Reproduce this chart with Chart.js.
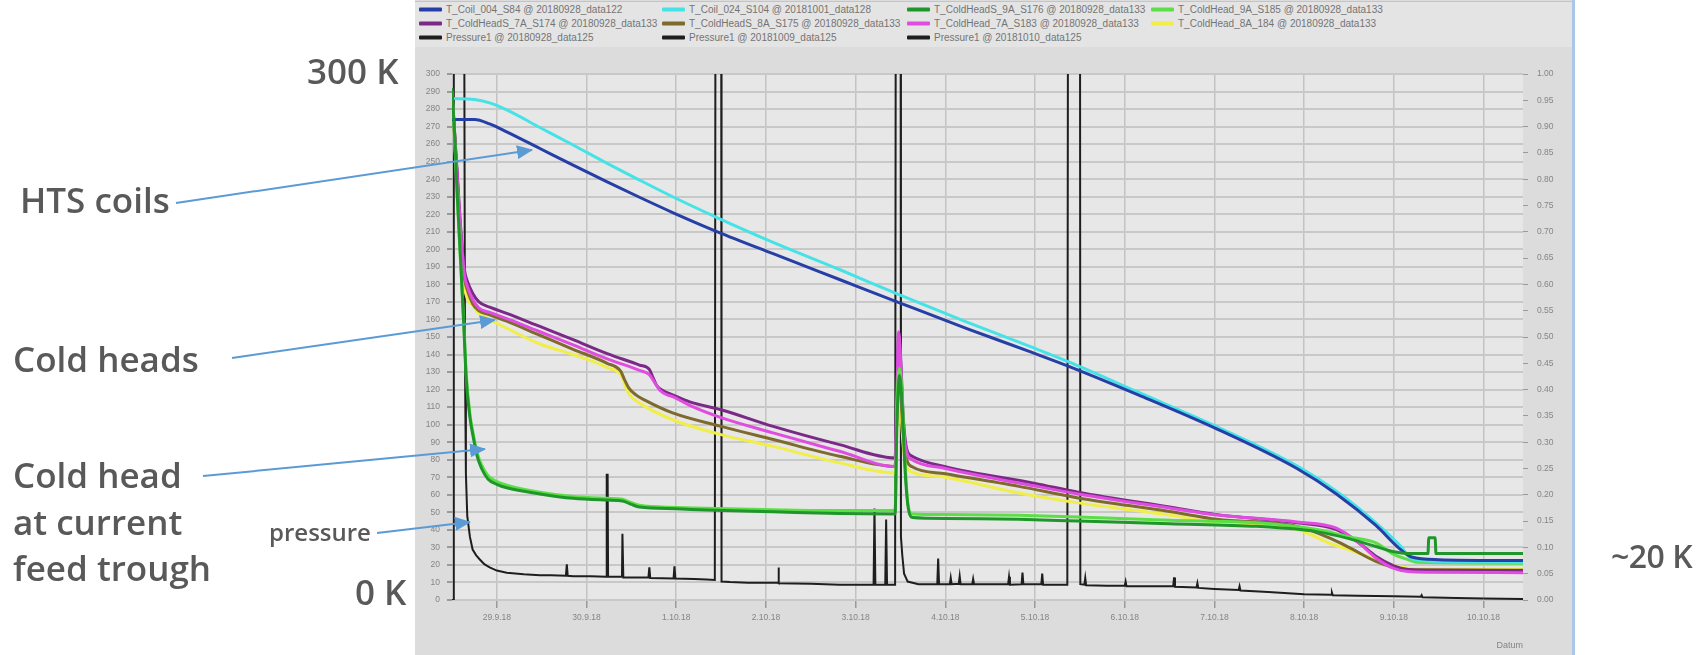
<!DOCTYPE html>
<html>
<head>
<meta charset="utf-8">
<title>Cool-down HTS coils</title>
<script src="https://cdn.jsdelivr.net/npm/chart.js@4.4.1/dist/chart.umd.min.js"></script>
<style>
  html, body { margin: 0; padding: 0; background: #fff; }
  body { width: 1702px; height: 655px; position: relative; overflow: hidden; font-family: "Open Sans", sans-serif; }
  #panel { position: absolute; left: 415px; top: 0; width: 1157px; height: 655px; background: #dcdcdc; border-right: 3px solid #a9c8e8; }
  #legendBand { position: absolute; left: 415px; top: 1px; width: 1157px; height: 45px; background: #e4e4e4; border-top: 1px solid #c4c4c4; }
  #chartLegend .item { position: absolute; font: 10px "Liberation Sans", Arial, sans-serif; color: #747474; white-space: nowrap; line-height: 11px; transform: translateY(-50%); }
  #chartLegend .swatch { display: inline-block; width: 23px; height: 4px; vertical-align: middle; margin-right: 4px; border-radius: 1px; }
  #cooldownChart { position: absolute; left: 0; top: 0; }
  .note { position: absolute; color: #595959; font-weight: 600; font-size: 35px; line-height: 1; white-space: nowrap; transform: translateY(-50%); }
  .note.small { font-size: 24px; }
  .note.right { font-size: 32px; letter-spacing: -0.5px; }
  #arrows { position: absolute; left: 0; top: 0; }
</style>
</head>
<body>
<div id="panel"></div>
<div id="legendBand"></div>
<div id="chartLegend"></div>
<canvas id="cooldownChart" width="1702" height="655"></canvas>

<div class="note" style="left:307px; top:70px;">300 K</div>
<div class="note" style="left:20px; top:199px;">HTS coils</div>
<div class="note" style="left:13px; top:358px;">Cold heads</div>
<div class="note" style="left:13px; top:474px;">Cold head</div>
<div class="note" style="left:13px; top:521px;">at current</div>
<div class="note" style="left:13px; top:567px;">feed trough</div>
<div class="note small" style="left:269px; top:532px;">pressure</div>
<div class="note" style="left:355px; top:591px;">0 K</div>
<div class="note right" style="left:1611px; top:556px;">~20 K</div>

<svg id="arrows" width="1702" height="655">
  <defs>
    <marker id="head" markerUnits="userSpaceOnUse" markerWidth="16" markerHeight="14" refX="15" refY="7" orient="auto">
      <path d="M0,0 L16,7 L0,14 z" fill="#5b9bd5"/>
    </marker>
  </defs>
  <g stroke="#5b9bd5" stroke-width="2" marker-end="url(#head)">
    <line x1="176" y1="203" x2="532" y2="150"/>
    <line x1="232" y1="358" x2="495" y2="320"/>
    <line x1="203" y1="476" x2="485" y2="449"/>
    <line x1="377" y1="533" x2="470" y2="522"/>
  </g>
</svg>

<script>
// x = days since 28.9.18 00:00, temperatures in K (left axis), pressure on right axis
const xTickDays = [1, 2, 3, 4, 5, 6, 7, 8, 9, 10, 11, 12];
const xTickLabels = ['29.9.18', '30.9.18', '1.10.18', '2.10.18', '3.10.18', '4.10.18',
                     '5.10.18', '6.10.18', '7.10.18', '8.10.18', '9.10.18', '10.10.18'];

const coil004 = [[0.50,274],[0.75,274],[0.92,271.5],[1.11,267],[1.48,257.5],[1.85,248],[2.23,238.5],
  [2.59,229.7],[2.96,221],[3.46,210],[4.08,197.5],[4.82,182.8],[5.49,169.5],[6.24,154.8],[6.95,141.5],
  [7.39,133],[8.15,117],[9.03,97.5],[9.92,75],[10.36,60.5],[10.80,42.5],[11.07,29],[11.2,24.5],
  [11.5,23],[12.44,22.5]];

const coil024 = [[0.50,286],[0.75,285.5],[0.92,283.5],[1.11,279.5],[1.48,269.5],[1.85,259.5],[2.23,249],
  [2.59,239.5],[2.96,230],[3.46,218],[4.08,204],[4.82,188.5],[5.49,174],[6.24,158.5],[6.95,144.5],
  [7.39,135.5],[8.15,118.5],[9.03,98.8],[9.92,76.5],[10.36,62],[10.80,44],[11.07,31],[11.2,23.5],
  [11.5,22],[12.44,21.5]];

const coldHeadS9A = [[0.50,292],[0.53,265],[0.56,230],[0.60,190],[0.63,158],[0.66,125],[0.70,104],
  [0.74,92],[0.78,82],[0.83,75],[0.90,69],[1.00,66],[1.11,64],[1.48,60.5],[1.85,58],[2.23,57],
  [2.40,56.5],[2.50,54.5],[2.59,53],[3.00,52],[3.34,51.3],[4.08,50.3],[4.82,49.3],[5.44,49],
  [5.46,100],[5.49,128],[5.52,110],[5.55,75],[5.58,55],[5.63,47],[6.00,46.5],[6.82,46],[7.48,45],
  [8.50,43.5],[9.47,42],[10.14,39],[10.50,35],[10.80,30.5],[11.00,27.5],[11.16,26.5],[11.38,26.5],
  [11.39,35.5],[11.46,35.5],[11.47,26.5],[12.44,26.5]];

const coldHead9A = [[0.50,290],[0.53,262],[0.56,228],[0.60,188],[0.63,160],[0.66,128],[0.70,106],
  [0.74,94],[0.78,84],[0.83,77],[0.90,71],[1.00,67.5],[1.11,65.5],[1.48,61.5],[1.85,59],[2.23,58],
  [2.40,57.5],[2.50,55.5],[2.59,54],[3.00,52.8],[3.34,52.3],[4.08,51.5],[4.82,51],[5.44,51],
  [5.46,110],[5.49,132],[5.52,115],[5.55,80],[5.58,56],[5.63,49],[6.00,48.7],[6.82,48.3],
  [7.48,47.4],[8.50,45.5],[9.47,44],[10.14,40.2],[10.50,36],[10.80,32.6],[11.00,26],[11.16,23],
  [11.25,21.5],[12.44,21]];

const coldHeadS7A = [[0.50,290],[0.55,250],[0.60,210],[0.64,188],[0.67,182],[0.73,175],[0.80,170],
  [0.92,167],[1.11,163.5],[1.48,156],[1.85,148.5],[2.23,140.5],[2.59,134],[2.70,131.5],[2.74,127],
  [2.78,122.5],[2.85,119.5],[2.96,117],[3.15,113],[3.50,108.5],[4.08,99],[4.82,88.6],[5.44,81],
  [5.46,120],[5.48,150],[5.50,140],[5.53,105],[5.57,86],[5.63,82],[6.00,76],[7.00,66.5],[7.48,61.5],
  [8.50,53],[9.03,48.7],[9.92,44],[10.36,40.2],[10.60,33],[10.80,25],[11.00,19.5],[11.16,17.4],
  [11.40,17],[12.44,16.8]];

const coldHeadS8A = [[0.50,289],[0.55,248],[0.60,205],[0.64,183],[0.67,177],[0.73,169],[0.80,165],
  [0.92,162.7],[1.11,159],[1.48,151],[1.85,143],[2.23,135],[2.38,130.5],[2.42,126],[2.47,121],
  [2.55,117],[2.65,114],[2.96,106.7],[3.50,99],[4.08,91.5],[4.82,82],[5.44,76.2],[5.46,105],
  [5.48,128],[5.50,120],[5.53,95],[5.57,80],[5.63,76],[6.00,72],[6.82,64.8],[7.48,58.2],[8.50,50.5],
  [9.03,46],[9.92,42],[10.30,35],[10.50,30],[10.80,22],[11.00,18.5],[11.20,17.2],[12.44,17]];

const coldHead7A = [[0.50,288],[0.55,248],[0.60,208],[0.64,185],[0.67,179],[0.73,171.5],[0.80,166.5],
  [0.92,164],[1.11,160.5],[1.48,153],[1.85,145.5],[2.23,137.5],[2.59,131],[2.70,128.5],[2.76,124],
  [2.82,119.5],[2.90,117],[2.96,116],[3.15,111],[3.50,104],[4.08,95.3],[4.82,84.8],[5.44,76.2],
  [5.46,115],[5.48,153],[5.50,138],[5.53,100],[5.57,84],[5.63,80],[6.00,75],[7.00,65],[7.48,60.5],
  [8.50,52.5],[9.03,48.5],[9.92,44.5],[10.36,41],[10.60,33],[10.80,24],[11.00,18],[11.16,16.2],
  [11.40,15.8],[12.44,15.6]];

const coldHead8A = [[0.50,286],[0.55,245],[0.60,200],[0.64,178],[0.67,172],[0.73,168],[0.80,163.5],
  [0.92,160],[1.11,155],[1.48,146],[1.85,140],[2.23,132.5],[2.40,127],[2.44,121],[2.48,117],
  [2.60,112],[2.96,102.8],[3.50,94.3],[4.08,87.6],[4.82,78.2],[5.44,72.5],[5.46,100],[5.48,125],
  [5.50,112],[5.53,88],[5.57,76],[5.63,73],[6.00,70],[6.82,61],[7.48,55.4],[8.50,48.5],[9.03,44],
  [9.92,40.2],[10.30,32],[10.50,28.8],[10.80,23],[11.00,19.5],[11.20,18],[12.44,17.5]];

// pressure (right axis), values above 1.00 run off the top of the plot
const pressure0928 = [[0.50,0.00],[0.515,0.00],[0.52,1.6],[0.63,1.6],[0.645,0.45],[0.655,0.24],
  [0.67,0.16],[0.70,0.12],[0.73,0.096],[0.77,0.085],[0.81,0.077],[0.86,0.068],[0.92,0.062],
  [1.00,0.056],[1.11,0.052],[1.30,0.049],[1.48,0.047],[1.60,0.047],[1.77,0.046],[1.78,0.068],
  [1.79,0.046],[1.85,0.045],[2.05,0.045],[2.22,0.044],[2.225,0.238],[2.235,0.238],[2.24,0.044],
  [2.395,0.044],[2.40,0.126],[2.41,0.043],[2.59,0.043],[2.69,0.043],[2.70,0.062],[2.71,0.042],
  [2.97,0.041],[2.98,0.064],[2.99,0.041],[3.20,0.040],[3.34,0.039],[3.43,0.038],[3.44,1.6],
  [3.50,1.6],[3.505,0.035],[3.60,0.034],[3.80,0.033],[4.08,0.033],[4.135,0.033],[4.14,0.062],
  [4.145,0.032],[4.50,0.031],[4.82,0.029],[5.20,0.029],[5.21,0.174],[5.22,0.029],[5.33,0.029],
  [5.34,0.153],[5.35,0.029],[5.44,0.029],[5.45,1.6],[5.50,1.6],[5.505,0.12],[5.52,0.085],
  [5.54,0.05],[5.58,0.035],[5.70,0.030],[5.91,0.030],[5.92,0.079],[5.93,0.030],[6.05,0.030],
  [6.06,0.042],[6.07,0.030],[6.15,0.031],[6.16,0.045],[6.17,0.030],[6.30,0.030],[6.31,0.040],
  [6.32,0.030],[6.70,0.030],[6.71,0.044],[6.72,0.029],[6.85,0.030],[6.86,0.052],[6.87,0.030],
  [7.07,0.030],[7.08,0.050],[7.09,0.029],[7.25,0.029],[7.36,0.029],[7.37,1.6],[7.50,1.6],
  [7.505,0.030],[7.55,0.029],[7.56,0.042],[7.57,0.028],[7.80,0.027],[8.00,0.027],[8.01,0.035],
  [8.02,0.026],[8.30,0.026],[8.54,0.026],[8.55,0.043],[8.56,0.025],[8.80,0.024],[8.81,0.032],
  [8.82,0.023],[9.00,0.021],[9.27,0.019],[9.28,0.026],[9.29,0.018],[9.60,0.015],[10.00,0.011],
  [10.30,0.010],[10.31,0.014],[10.32,0.009],[10.60,0.008],[11.00,0.007]];
const pressure1009 = [[11.00,0.007],[11.30,0.006],[11.31,0.009],[11.32,0.005],[11.70,0.004],[12.00,0.003]];
const pressure1010 = [[12.00,0.003],[12.44,0.002]];

const seriesNames = [
  'T_Coil_004_S84 @ 20180928_data122', 'T_Coil_024_S104 @ 20181001_data128',
  'T_ColdHeadS_9A_S176 @ 20180928_data133', 'T_ColdHead_9A_S185 @ 20180928_data133',
  'T_ColdHeadS_7A_S174 @ 20180928_data133', 'T_ColdHeadS_8A_S175 @ 20180928_data133',
  'T_ColdHead_7A_S183 @ 20180928_data133', 'T_ColdHead_8A_184 @ 20180928_data133',
  'Pressure1 @ 20180928_data125', 'Pressure1 @ 20181009_data125', 'Pressure1 @ 20181010_data125'
];
const seriesData = [coil004, coil024, coldHeadS9A, coldHead9A, coldHeadS7A, coldHeadS8A,
                    coldHead7A, coldHead8A, pressure0928, pressure1009, pressure1010];
const seriesColors = ['#263fa6', '#45e3e6', '#1f962a', '#5cdf46', '#7a2a86', '#7d6a2c',
                      '#e04ce0', '#f0ee48', '#1e1e1e', '#1e1e1e', '#1e1e1e'];
// drawing order: lower number ends up on top
const seriesOrder = [2, 3, 1, 4, 6, 7, 5, 8, 9, 9, 9];

const legendCols = [419, 662, 907, 1151];
const legendRows = [9, 23, 37];

// Legend drawn as html, 4 columns like the original viewer
function renderLegend() {
    const box = document.getElementById('chartLegend');
    box.innerHTML = '';
    seriesNames.forEach((name, i) => {
        const col = i % 4, row = Math.floor(i / 4);
        box.innerHTML += `<div class="item" style="left:${legendCols[col]}px; top:${legendRows[row]}px;">
            <span class="swatch" style="background:${seriesColors[i]}"></span>${name}</div>`;
    });
}

// light plot background behind the grid
const plotBackground = {
    id: 'plotBackground',
    beforeDraw(chart) {
        const a = chart.chartArea, c = chart.ctx;
        c.save();
        c.fillStyle = '#e7e7e7';
        c.fillRect(a.left, a.top, a.right - a.left, a.bottom - a.top);
        c.restore();
    }
};

function renderCooldownChart() {
    const ctx = document.getElementById('cooldownChart').getContext('2d');
    const tickFont = { family: 'Liberation Sans', size: 8.5 };

    const datasets = seriesData.map((pts, i) => {
        const isPressure = i >= 8;
        return {
            label: seriesNames[i],
            data: pts.map(p => ({ x: p[0], y: p[1] })),
            borderColor: seriesColors[i],
            borderWidth: isPressure ? 2 : 3,
            yAxisID: isPressure ? 'y2' : 'y',
            order: seriesOrder[i],
            tension: 0,
            cubicInterpolationMode: isPressure ? 'default' : 'monotone',
            pointRadius: 0,
            fill: false,
            clip: 0
        };
    });

    new Chart(ctx, {
        type: 'line',
        data: { datasets: datasets },
        options: {
            responsive: false,
            animation: false,
            layout: { padding: { top: 74, left: 0, right: 0, bottom: 0 } },
            plugins: {
                legend: { display: false },
                tooltip: { enabled: false }
            },
            scales: {
                x: {
                    type: 'linear',
                    min: 0.5,
                    max: 12.44,
                    afterBuildTicks: s => { s.ticks = xTickDays.map(v => ({ value: v })); },
                    afterFit: s => { s.height = 55; },
                    ticks: {
                        autoSkip: false,
                        maxRotation: 0,
                        padding: 5,
                        color: '#858585',
                        font: tickFont,
                        callback: v => xTickLabels[xTickDays.indexOf(v)]
                    },
                    grid: { color: '#c3c3c3', lineWidth: 1.5, tickLength: 8, tickColor: '#9a9a9a' },
                    border: { display: false },
                    title: {
                        display: true,
                        text: 'Datum',
                        align: 'end',
                        color: '#858585',
                        font: { family: 'Liberation Sans', size: 9 },
                        padding: { top: 0, bottom: 4 }
                    }
                },
                y: {
                    position: 'left',
                    min: 0,
                    max: 300,
                    afterFit: s => { s.width = 452; },
                    ticks: { stepSize: 10, autoSkip: false, padding: 7, color: '#858585', font: tickFont },
                    grid: { color: '#c8c8c8', lineWidth: 2, tickLength: 5, tickColor: '#9a9a9a' },
                    border: { display: false }
                },
                y2: {
                    position: 'right',
                    min: 0,
                    max: 1,
                    afterFit: s => { s.width = 179; },
                    ticks: {
                        stepSize: 0.05,
                        autoSkip: false,
                        padding: 9,
                        color: '#858585',
                        font: tickFont,
                        callback: v => v.toFixed(2)
                    },
                    grid: { drawOnChartArea: false, tickLength: 5, tickColor: '#9a9a9a' },
                    border: { display: false }
                }
            }
        },
        plugins: [plotBackground]
    });
}

renderLegend();
renderCooldownChart();
</script>
</body>
</html>
